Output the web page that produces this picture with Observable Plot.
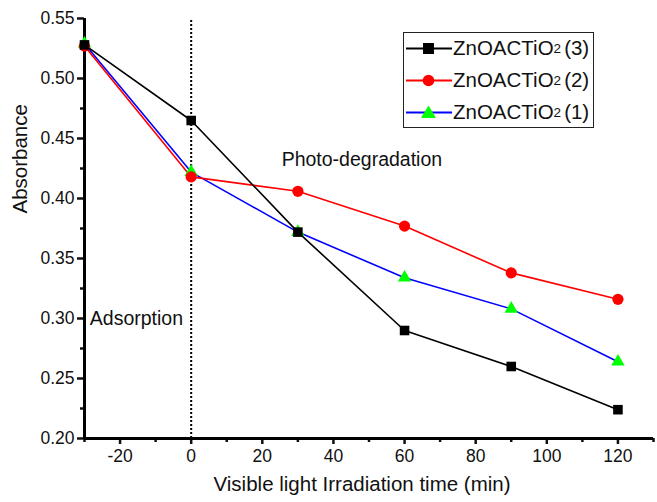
<!DOCTYPE html>
<html>
<head>
<meta charset="utf-8">
<script src="https://cdn.jsdelivr.net/npm/d3@7"></script>
<script src="https://cdn.jsdelivr.net/npm/@observablehq/plot@0.6"></script>
<style>
  html, body { margin: 0; padding: 0; background: #fff; }
  #wrap { position: relative; width: 657px; height: 502px; font-family: "Liberation Sans", Arial, sans-serif; }
  #legend { position: absolute; left: 403px; top: 32px; width: 191px; height: 96px; border: 1.5px solid #222; box-sizing: border-box; background: #fff; }
  .row { position: absolute; left: 2px; height: 30px; display: flex; align-items: center; font-size: 20.5px; color: #111; white-space: nowrap; }
  .row svg { margin-right: 1px; }
  .row sub { font-size: 13.5px; vertical-align: -3px; margin-right: 3px; }
</style>
</head>
<body>
<div id="wrap"></div>
<script>
const times = [-30, 0, 30, 60, 90, 120];
const s3 = [0.528, 0.465, 0.372, 0.290, 0.260, 0.224];
const s2 = [0.527, 0.418, 0.406, 0.377, 0.338, 0.316];
const s1 = [0.529, 0.422, 0.372, 0.334, 0.308, 0.264];
const seriesNames = ["ZnOACTiO2 (3)", "ZnOACTiO2 (2)", "ZnOACTiO2 (1)"];
const xTicks = [-20, 0, 20, 40, 60, 80, 100, 120];
const xMinor = [-30, -10, 10, 30, 50, 70, 90, 110, 130];
const yTicks = [0.20, 0.25, 0.30, 0.35, 0.40, 0.45, 0.50, 0.55];
const yMinor = [0.225, 0.275, 0.325, 0.375, 0.425, 0.475, 0.525];
const xLabel = "Visible light Irradiation time (min)";
const yLabel = "Absorbance";

const lineColors = ["#000000", "#ff0000", "#0000ff"];
const markFill = ["#000000", "#ff0000", "#00ff00"];
const symbols = ["square", "circle", "triangle"];
const radii = [5.4, 5.6, 5.0];

const seriesVals = [s3, s2, s1];
const data = [];
seriesVals.forEach((vals, k) => vals.forEach((v, i) => data.push({series: k, t: times[i], a: v})));

const marks = [
  Plot.ruleX([0], {y1: 0.2, y2: 0.55, stroke: "#000", strokeWidth: 2, strokeDasharray: "2,2"}),
  Plot.axisX({ticks: xTicks, tickSize: 6, tickPadding: 5, tickFormat: d => d, fontSize: 17.5, label: null, strokeWidth: 2.5}),
  Plot.axisX({ticks: xMinor, tickSize: 4, tickFormat: null, text: null, label: null, strokeWidth: 2.5}),
  Plot.axisY({ticks: yTicks, tickSize: 7, tickPadding: 3, tickFormat: d3.format(".2f"), fontSize: 17.5, label: null, strokeWidth: 2.5}),
  Plot.axisY({ticks: yMinor, tickSize: 4, text: null, label: null, strokeWidth: 2.5}),
  Plot.ruleY([0.2], {stroke: "#000", strokeWidth: 3}),
  Plot.ruleX([-30], {stroke: "#000", strokeWidth: 3}),
  Plot.text([xLabel], {frameAnchor: "bottom", text: d => d, dx: -7, dy: 52, fontSize: 20.5, fill: "#111"}),
  Plot.text([yLabel], {frameAnchor: "left", text: d => d, rotate: -90, dx: -64, dy: -15, fontSize: 20.5, fill: "#111"}),
];
[2, 1, 0].forEach(k => {
  const d = data.filter(r => r.series === k);
  marks.push(Plot.line(d, {x: "t", y: "a", stroke: lineColors[k], strokeWidth: 1.6}));
});
[2, 1, 0].forEach(k => {
  const d = data.filter(r => r.series === k);
  marks.push(Plot.dot(d, {x: "t", y: "a", symbol: () => symbols[k], fill: markFill[k], stroke: "none", r: radii[k]}));
});
marks.push(Plot.text(["Adsorption"], {x: -28.5, y: 0.30, text: d => d, textAnchor: "start", fontSize: 19.5, fill: "#111"}));
marks.push(Plot.text(["Photo-degradation"], {x: 48, y: 0.432, text: d => d, textAnchor: "middle", fontSize: 19.5, fill: "#111"}));

const chart = Plot.plot({
  width: 657,
  height: 502,
  marginLeft: 84,
  marginRight: 4,
  marginTop: 18,
  marginBottom: 64,
  style: {fontFamily: "'Liberation Sans', Arial, sans-serif", fontSize: "19.5px", color: "#111", background: "#fff"},
  x: {domain: [-30, 130]},
  y: {domain: [0.2, 0.55]},
  symbol: {type: "identity"},
  marks
});
const wrap = document.getElementById("wrap");
wrap.appendChild(chart);

// legend
const legend = document.createElement("div");
legend.id = "legend";
wrap.appendChild(legend);
const symPath = {
  square: '<rect x="17" y="5" width="11" height="11"/>',
  circle: '<circle cx="22.5" cy="10.5" r="5.8"/>',
  triangle: '<polygon points="22.5,3.5 30,16 15,16"/>'
};
[0, 1, 2].forEach(k => {
  const row = document.createElement("div");
  row.className = "row";
  row.style.top = (k * 32) + "px";
  const nm = seriesNames[k];
  const base = nm.slice(0, 8), rest = nm.slice(9);
  row.innerHTML = `<svg width="46" height="21"><line x1="0" x2="46" y1="10.5" y2="10.5" stroke="${lineColors[k]}" stroke-width="2.2"/><g fill="${markFill[k]}">${symPath[symbols[k]]}</g></svg>${base}<sub>2</sub>${rest}`;
  legend.appendChild(row);
});
</script>
</body>
</html>
